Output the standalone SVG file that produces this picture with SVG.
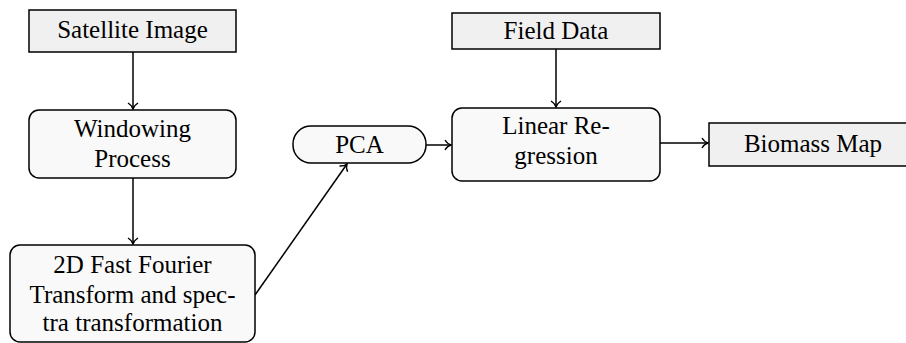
<svg xmlns="http://www.w3.org/2000/svg" width="906" height="343" viewBox="0 0 906 343">
<defs>
<marker id="ah" viewBox="-8 -6 10 12" markerWidth="10" markerHeight="12" refX="0" refY="0" orient="auto" markerUnits="userSpaceOnUse">
<path d="M-6,-5 C-4,-1.8 -1.8,-0.5 0,0 C-1.8,0.5 -4,1.8 -6,5" fill="none" stroke="#000" stroke-width="1.4"/>
</marker>
</defs>
<rect width="906" height="343" fill="#fff"/>
<g id="connectors" fill="none" stroke="#000" stroke-width="1.5">
<line x1="133" y1="52" x2="133" y2="109" marker-end="url(#ah)"/>
<line x1="133" y1="178" x2="133" y2="244" marker-end="url(#ah)"/>
<line x1="255" y1="295" x2="347" y2="164" marker-end="url(#ah)"/>
<line x1="426" y1="145" x2="451" y2="145" marker-end="url(#ah)"/>
<line x1="556" y1="49" x2="556" y2="107" marker-end="url(#ah)"/>
<line x1="660" y1="143" x2="708" y2="143" marker-end="url(#ah)"/>
</g>
<g id="satellite">
<rect x="29" y="10" width="207" height="42" fill="#f0f0f0" stroke="#000" stroke-width="1.5"/>
<text x="132.5" y="38" font-family="Liberation Serif, Times New Roman, serif" font-size="25" text-anchor="middle">Satellite Image</text>
</g>
<g id="windowing">
<rect x="29" y="110" width="207" height="68" rx="10" fill="#f9f9f9" stroke="#000" stroke-width="1.5"/>
<text x="132.5" y="137" font-family="Liberation Serif, Times New Roman, serif" font-size="25" text-anchor="middle">Windowing</text>
<text x="132.5" y="167" font-family="Liberation Serif, Times New Roman, serif" font-size="25" text-anchor="middle">Process</text>
</g>
<g id="fft">
<rect x="10" y="245" width="245" height="97" rx="10" fill="#f9f9f9" stroke="#000" stroke-width="1.5"/>
<text x="132.5" y="273" font-family="Liberation Serif, Times New Roman, serif" font-size="25" text-anchor="middle">2D Fast Fourier</text>
<text x="132.5" y="303" font-family="Liberation Serif, Times New Roman, serif" font-size="25" text-anchor="middle">Transform and spec-</text>
<text x="132.5" y="331" font-family="Liberation Serif, Times New Roman, serif" font-size="25" text-anchor="middle">tra transformation</text>
</g>
<g id="pca">
<rect x="293" y="126" width="133" height="37" rx="18" fill="#f9f9f9" stroke="#000" stroke-width="1.5"/>
<text x="359.5" y="153" font-family="Liberation Serif, Times New Roman, serif" font-size="25" text-anchor="middle">PCA</text>
</g>
<g id="fielddata">
<rect x="452" y="13" width="208" height="36" fill="#f0f0f0" stroke="#000" stroke-width="1.5"/>
<text x="556" y="39" font-family="Liberation Serif, Times New Roman, serif" font-size="25" text-anchor="middle">Field Data</text>
</g>
<g id="regression">
<rect x="452" y="108" width="208" height="73" rx="10" fill="#f9f9f9" stroke="#000" stroke-width="1.5"/>
<text x="556" y="134" font-family="Liberation Serif, Times New Roman, serif" font-size="25" text-anchor="middle">Linear Re-</text>
<text x="556" y="164" font-family="Liberation Serif, Times New Roman, serif" font-size="25" text-anchor="middle">gression</text>
</g>
<g id="biomass">
<rect x="709" y="123" width="208" height="43" fill="#f0f0f0" stroke="#000" stroke-width="1.5"/>
<text x="813" y="152" font-family="Liberation Serif, Times New Roman, serif" font-size="25" text-anchor="middle">Biomass Map</text>
</g>
</svg>
